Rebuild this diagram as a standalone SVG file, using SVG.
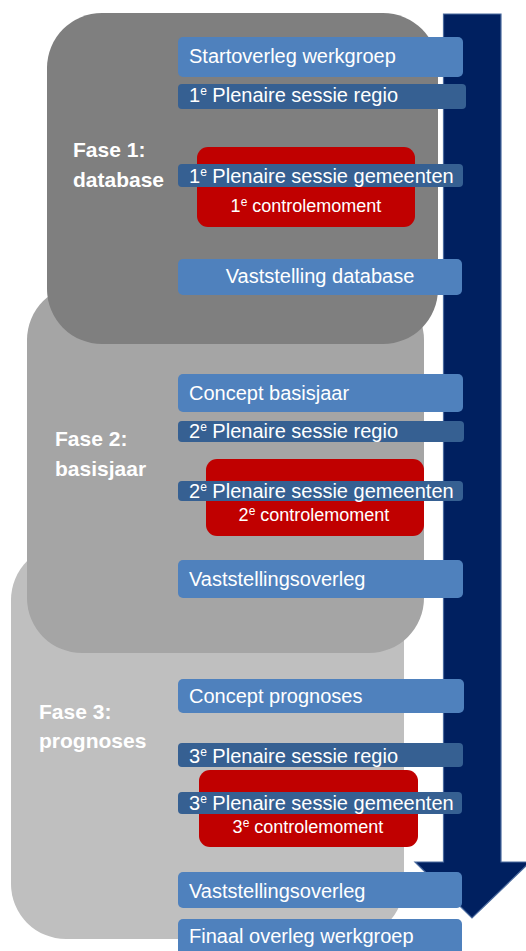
<svg xmlns="http://www.w3.org/2000/svg" width="526" height="951" viewBox="0 0 526 951">
<style>
.bar{fill:#4f81bd}
.dbar{fill:#366092}
.red{fill:#c00000}
.t{font-family:"Liberation Sans",Arial,sans-serif;font-size:20px;fill:#ffffff}
.rt{font-family:"Liberation Sans",Arial,sans-serif;font-size:18px;fill:#ffffff;text-anchor:middle}
.ph{font-family:"Liberation Sans",Arial,sans-serif;font-size:21px;font-weight:bold;fill:#ffffff}
.sup{font-size:12px}
</style>
<rect width="526" height="951" fill="#ffffff"/>
<g id="fase3"><rect x="11" y="545" width="393" height="394" rx="55" fill="#bfbfbf"/></g>
<g id="fase2"><rect x="27" y="285" width="397" height="368" rx="55" fill="#a5a5a5"/></g>
<g id="fase1"><rect x="47" y="13" width="391" height="331" rx="55" fill="#7f7f7f"/></g>
<g id="connectors">
<polygon points="443.5,14 501,14 501,862 530,862 472,918 415,862 443.5,862" fill="#002060" stroke="#4a6a9e" stroke-width="1.2"/>
</g>
<g id="labels">
<text class="ph" x="73" y="157">Fase 1:</text>
<text class="ph" x="73" y="187">database</text>
<text class="ph" x="55" y="446">Fase 2:</text>
<text class="ph" x="55" y="476">basisjaar</text>
<text class="ph" x="39" y="719">Fase 3:</text>
<text class="ph" x="39" y="748">prognoses</text>
</g>
<g id="controle1"><rect class="red" x="197" y="147" width="218" height="80" rx="11"/><text class="rt" x="306" y="212">1<tspan class="sup" dy="-6">e</tspan><tspan dy="6"> controlemoment</tspan></text></g>
<g id="controle2"><rect class="red" x="206" y="459" width="218" height="77" rx="11"/><text class="rt" x="314" y="521">2<tspan class="sup" dy="-6">e</tspan><tspan dy="6"> controlemoment</tspan></text></g>
<g id="controle3"><rect class="red" x="199" y="770" width="219" height="77" rx="11"/><text class="rt" x="308" y="833">3<tspan class="sup" dy="-6">e</tspan><tspan dy="6"> controlemoment</tspan></text></g>
<g id="startoverleg"><rect class="bar" x="178" y="37" width="285" height="40" rx="5"/><text class="t" x="189" y="63">Startoverleg werkgroep</text></g>
<g id="regio1"><rect class="dbar" x="178" y="84" width="288" height="25" rx="4"/><text class="t" x="189" y="102">1<tspan class="sup" dy="-7">e</tspan><tspan dy="7"> Plenaire sessie regio</tspan></text></g>
<g id="gemeenten1"><rect class="dbar" x="178" y="164" width="285" height="23" rx="4"/><text class="t" x="189" y="183">1<tspan class="sup" dy="-7">e</tspan><tspan dy="7"> Plenaire sessie gemeenten</tspan></text></g>
<g id="vaststelling-db"><rect class="bar" x="178" y="259" width="284" height="36" rx="5"/><text class="t" x="320" y="283" text-anchor="middle">Vaststelling database</text></g>
<g id="concept-basisjaar"><rect class="bar" x="178" y="374" width="285" height="38" rx="5"/><text class="t" x="189" y="400">Concept basisjaar</text></g>
<g id="regio2"><rect class="dbar" x="178" y="421" width="286" height="21" rx="4"/><text class="t" x="189" y="438">2<tspan class="sup" dy="-7">e</tspan><tspan dy="7"> Plenaire sessie regio</tspan></text></g>
<g id="gemeenten2"><rect class="dbar" x="178" y="481" width="285" height="20" rx="4"/><text class="t" x="189" y="498">2<tspan class="sup" dy="-7">e</tspan><tspan dy="7"> Plenaire sessie gemeenten</tspan></text></g>
<g id="vaststellingsoverleg2"><rect class="bar" x="178" y="560" width="285" height="38" rx="5"/><text class="t" x="189" y="586">Vaststellingsoverleg</text></g>
<g id="concept-prognoses"><rect class="bar" x="178" y="679" width="286" height="34" rx="5"/><text class="t" x="189" y="703">Concept prognoses</text></g>
<g id="regio3"><rect class="dbar" x="178" y="743" width="285" height="24" rx="4"/><text class="t" x="189" y="763">3<tspan class="sup" dy="-7">e</tspan><tspan dy="7"> Plenaire sessie regio</tspan></text></g>
<g id="gemeenten3"><rect class="dbar" x="178" y="792" width="284" height="22" rx="4"/><text class="t" x="189" y="810">3<tspan class="sup" dy="-7">e</tspan><tspan dy="7"> Plenaire sessie gemeenten</tspan></text></g>
<g id="vaststellingsoverleg3"><rect class="bar" x="178" y="872" width="284" height="36" rx="5"/><text class="t" x="189" y="898">Vaststellingsoverleg</text></g>
<g id="finaal"><rect class="bar" x="178" y="919" width="284" height="45" rx="5"/><text class="t" x="189" y="943">Finaal overleg werkgroep</text></g>
</svg>
